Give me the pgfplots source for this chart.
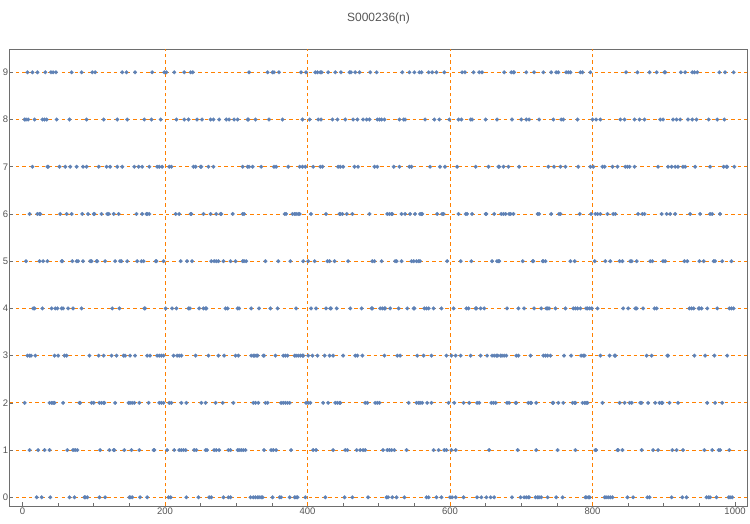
\documentclass[border=0pt]{standalone}
\usepackage{pgfplots}
\pgfplotsset{compat=1.18}
\usepackage{fontspec}
\setmainfont{Liberation Sans}
\definecolor{ptblue}{RGB}{94,129,181}
\definecolor{gridorange}{RGB}{255,128,0}
\definecolor{framegray}{RGB}{110,110,110}
\definecolor{textgray}{RGB}{85,85,85}
\pgfplotsset{pts/.style={only marks, mark=*, mark size=1.9pt, color=ptblue, mark options={fill=ptblue, draw=ptblue, line width=0.2pt}}}
\begin{document}
\begin{tikzpicture}
\begin{axis}[
  width=738pt, height=456.5pt, scale only axis,
  xmin=-18.2, xmax=1017.5, ymin=-0.184, ymax=9.483,
  axis line style={framegray, line width=0.8pt},
  tick align=inside, tick pos=left,
  xtick={0,200,400,600,800,1000}, minor x tick num=3,
  ytick={0,1,2,3,4,5,6,7,8,9},
  major tick length=4pt, minor tick length=2.5pt,
  tick style={framegray, line width=0.6pt},
  ymajorgrids=true,
  extra x ticks={200,400,600,800},
  extra x tick labels={},
  extra x tick style={xmajorgrids=true, major tick length=0pt},
  major grid style={gridorange, line width=0.8pt, dash pattern=on 3.5pt off 3pt},
  /pgf/number format/assume math mode=true,
  /pgf/number format/1000 sep={},
  ticklabel style={font=\fontsize{9.5}{11}\selectfont, text=textgray},
  yticklabel style={inner xsep=1.2pt},
  xticklabel style={inner ysep=2pt},
  title={S000236(n)},
  title style={font=\fontsize{12}{14}\selectfont, text=textgray, anchor=center, at={(0.5,1)}, yshift=25pt},
]
% value 9
\addplot[pts] coordinates {(7,9)(14,9)(21,9)(32,9)(40,9)(43,9)(47,9)(69,9)(83,9)(98,9)(102,9)(140,9)(146,9)(158,9)(182,9)(199,9)(202,9)(213,9)(227,9)(236,9)(239,9)(318,9)(344,9)(351,9)(353,9)(360,9)(391,9)(398,9)(411,9)(414,9)(418,9)(420,9)(429,9)(439,9)(447,9)(459,9)(461,9)(467,9)(473,9)(488,9)(497,9)(533,9)(543,9)(550,9)(557,9)(560,9)(570,9)(575,9)(581,9)(592,9)(617,9)(621,9)(633,9)(641,9)(645,9)(676,9)(686,9)(689,9)(690,9)(707,9)(718,9)(731,9)(742,9)(749,9)(752,9)(763,9)(766,9)(769,9)(783,9)(786,9)(797,9)(847,9)(863,9)(880,9)(890,9)(901,9)(902,9)(924,9)(930,9)(940,9)(943,9)(947,9)(978,9)(986,9)(998,9)};
% value 8
\addplot[pts] coordinates {(3,8)(5,8)(8,8)(17,8)(28,8)(31,8)(34,8)(48,8)(66,8)(90,8)(114,8)(133,8)(147,8)(171,8)(181,8)(194,8)(216,8)(227,8)(233,8)(245,8)(252,8)(264,8)(268,8)(276,8)(286,8)(290,8)(297,8)(302,8)(316,8)(317,8)(327,8)(346,8)(365,8)(393,8)(403,8)(415,8)(419,8)(435,8)(442,8)(453,8)(464,8)(470,8)(478,8)(483,8)(487,8)(498,8)(501,8)(504,8)(508,8)(529,8)(535,8)(537,8)(565,8)(578,8)(585,8)(599,8)(612,8)(616,8)(629,8)(631,8)(650,8)(666,8)(687,8)(700,8)(707,8)(711,8)(725,8)(745,8)(756,8)(759,8)(779,8)(800,8)(805,8)(811,8)(839,8)(845,8)(859,8)(866,8)(873,8)(895,8)(899,8)(913,8)(918,8)(923,8)(934,8)(940,8)(946,8)(963,8)(975,8)(985,8)};
% value 7
\addplot[pts] coordinates {(14,7)(35,7)(36,7)(52,7)(60,7)(67,7)(76,7)(85,7)(90,7)(107,7)(118,7)(123,7)(133,7)(140,7)(157,7)(163,7)(168,7)(178,7)(189,7)(192,7)(196,7)(206,7)(209,7)(240,7)(243,7)(250,7)(251,7)(261,7)(268,7)(309,7)(316,7)(318,7)(323,7)(335,7)(353,7)(356,7)(373,7)(389,7)(393,7)(397,7)(408,7)(418,7)(421,7)(443,7)(446,7)(450,7)(466,7)(471,7)(494,7)(498,7)(521,7)(529,7)(543,7)(546,7)(572,7)(586,7)(593,7)(610,7)(636,7)(654,7)(668,7)(669,7)(675,7)(682,7)(697,7)(738,7)(746,7)(755,7)(762,7)(780,7)(797,7)(801,7)(814,7)(817,7)(828,7)(835,7)(846,7)(849,7)(852,7)(859,7)(892,7)(906,7)(911,7)(916,7)(920,7)(927,7)(930,7)(944,7)(965,7)(984,7)(988,7)(989,7)(999,7)};
% value 6
\addplot[pts] coordinates {(10,6)(21,6)(24,6)(25,6)(53,6)(62,6)(69,6)(84,6)(92,6)(100,6)(101,6)(111,6)(119,6)(121,6)(128,6)(135,6)(160,6)(168,6)(174,6)(175,6)(178,6)(215,6)(220,6)(236,6)(237,6)(254,6)(264,6)(272,6)(278,6)(279,6)(295,6)(309,6)(311,6)(368,6)(370,6)(379,6)(382,6)(384,6)(387,6)(389,6)(405,6)(426,6)(445,6)(446,6)(449,6)(455,6)(463,6)(487,6)(512,6)(515,6)(518,6)(519,6)(532,6)(537,6)(544,6)(551,6)(558,6)(560,6)(561,6)(582,6)(589,6)(591,6)(612,6)(622,6)(624,6)(631,6)(650,6)(651,6)(662,6)(672,6)(675,6)(678,6)(683,6)(685,6)(689,6)(723,6)(725,6)(742,6)(753,6)(755,6)(782,6)(798,6)(804,6)(807,6)(811,6)(821,6)(829,6)(832,6)(864,6)(870,6)(873,6)(897,6)(904,6)(909,6)(916,6)(937,6)(951,6)(965,6)(968,6)(979,6)};
% value 5
\addplot[pts] coordinates {(5,5)(24,5)(29,5)(35,5)(55,5)(56,5)(70,5)(76,5)(78,5)(85,5)(95,5)(97,5)(104,5)(105,5)(116,5)(130,5)(137,5)(139,5)(147,5)(161,5)(167,5)(170,5)(187,5)(188,5)(198,5)(222,5)(231,5)(238,5)(265,5)(269,5)(272,5)(275,5)(282,5)(292,5)(299,5)(309,5)(311,5)(314,5)(341,5)(359,5)(376,5)(394,5)(401,5)(410,5)(428,5)(431,5)(438,5)(457,5)(491,5)(494,5)(504,5)(523,5)(525,5)(532,5)(546,5)(549,5)(553,5)(556,5)(558,5)(596,5)(615,5)(630,5)(659,5)(666,5)(668,5)(669,5)(702,5)(716,5)(717,5)(730,5)(731,5)(734,5)(769,5)(775,5)(803,5)(818,5)(825,5)(838,5)(842,5)(853,5)(855,5)(862,5)(881,5)(884,5)(899,5)(902,5)(929,5)(933,5)(950,5)(956,5)(970,5)(972,5)(982,5)(995,5)};
% value 4
\addplot[pts] coordinates {(15,4)(17,4)(28,4)(41,4)(46,4)(49,4)(55,4)(57,4)(64,4)(71,4)(83,4)(126,4)(136,4)(171,4)(172,4)(201,4)(210,4)(216,4)(233,4)(235,4)(248,4)(254,4)(257,4)(258,4)(285,4)(288,4)(302,4)(304,4)(321,4)(332,4)(348,4)(358,4)(384,4)(405,4)(412,4)(426,4)(432,4)(433,4)(441,4)(460,4)(476,4)(490,4)(491,4)(502,4)(505,4)(508,4)(509,4)(516,4)(528,4)(540,4)(549,4)(550,4)(564,4)(567,4)(570,4)(577,4)(588,4)(605,4)(623,4)(626,4)(636,4)(637,4)(643,4)(648,4)(680,4)(696,4)(704,4)(718,4)(728,4)(735,4)(737,4)(739,4)(748,4)(762,4)(773,4)(776,4)(779,4)(783,4)(791,4)(793,4)(796,4)(799,4)(807,4)(843,4)(850,4)(860,4)(862,4)(871,4)(887,4)(890,4)(936,4)(939,4)(942,4)(949,4)(950,4)(953,4)(961,4)(975,4)(992,4)(995,4)(998,4)};
% value 3
\addplot[pts] coordinates {(7,3)(10,3)(12,3)(18,3)(45,3)(50,3)(59,3)(62,3)(94,3)(107,3)(114,3)(125,3)(132,3)(142,3)(144,3)(151,3)(158,3)(175,3)(179,3)(189,3)(192,3)(195,3)(198,3)(212,3)(217,3)(220,3)(223,3)(243,3)(261,3)(275,3)(283,3)(299,3)(303,3)(321,3)(324,3)(326,3)(328,3)(330,3)(338,3)(339,3)(355,3)(366,3)(369,3)(372,3)(382,3)(384,3)(387,3)(390,3)(393,3)(394,3)(401,3)(407,3)(414,3)(424,3)(431,3)(436,3)(450,3)(467,3)(470,3)(477,3)(508,3)(526,3)(530,3)(554,3)(563,3)(574,3)(595,3)(602,3)(608,3)(615,3)(629,3)(643,3)(652,3)(659,3)(662,3)(665,3)(667,3)(671,3)(673,3)(676,3)(679,3)(693,3)(696,3)(713,3)(731,3)(734,3)(737,3)(741,3)(760,3)(770,3)(784,3)(787,3)(789,3)(811,3)(824,3)(831,3)(832,3)(876,3)(883,3)(905,3)(906,3)(943,3)(958,3)(971,3)(989,3)};
% value 2
\addplot[pts] coordinates {(3,2)(38,2)(41,2)(43,2)(45,2)(57,2)(80,2)(81,2)(97,2)(100,2)(108,2)(111,2)(114,2)(115,2)(130,2)(149,2)(151,2)(154,2)(157,2)(164,2)(177,2)(192,2)(195,2)(198,2)(206,2)(209,2)(223,2)(230,2)(251,2)(257,2)(271,2)(281,2)(296,2)(324,2)(327,2)(331,2)(341,2)(344,2)(363,2)(366,2)(369,2)(372,2)(375,2)(398,2)(401,2)(404,2)(422,2)(429,2)(439,2)(442,2)(445,2)(446,2)(481,2)(484,2)(495,2)(498,2)(501,2)(542,2)(553,2)(556,2)(558,2)(561,2)(568,2)(574,2)(598,2)(606,2)(619,2)(627,2)(638,2)(641,2)(658,2)(661,2)(664,2)(680,2)(683,2)(692,2)(693,2)(710,2)(713,2)(714,2)(721,2)(744,2)(745,2)(752,2)(759,2)(772,2)(775,2)(776,2)(786,2)(789,2)(791,2)(793,2)(814,2)(838,2)(845,2)(852,2)(855,2)(867,2)(869,2)(878,2)(888,2)(894,2)(897,2)(898,2)(908,2)(920,2)(961,2)(972,2)(982,2)};
% value 1
\addplot[pts] coordinates {(10,1)(22,1)(31,1)(38,1)(63,1)(71,1)(74,1)(77,1)(109,1)(122,1)(128,1)(129,1)(143,1)(153,1)(164,1)(184,1)(185,1)(203,1)(213,1)(220,1)(223,1)(226,1)(229,1)(241,1)(244,1)(257,1)(259,1)(269,1)(272,1)(276,1)(289,1)(292,1)(302,1)(304,1)(307,1)(310,1)(313,1)(339,1)(349,1)(352,1)(356,1)(377,1)(408,1)(412,1)(436,1)(453,1)(456,1)(469,1)(474,1)(478,1)(481,1)(506,1)(512,1)(515,1)(518,1)(522,1)(539,1)(577,1)(584,1)(592,1)(595,1)(602,1)(608,1)(655,1)(695,1)(721,1)(751,1)(776,1)(804,1)(805,1)(835,1)(836,1)(842,1)(869,1)(885,1)(892,1)(912,1)(918,1)(927,1)(957,1)(968,1)(977,1)(979,1)(992,1)};
% value 0
\addplot[pts] coordinates {(20,0)(27,0)(39,0)(66,0)(73,0)(87,0)(88,0)(91,0)(108,0)(116,0)(150,0)(151,0)(154,0)(165,0)(175,0)(205,0)(208,0)(230,0)(247,0)(262,0)(265,0)(282,0)(289,0)(292,0)(320,0)(324,0)(327,0)(330,0)(332,0)(335,0)(337,0)(351,0)(361,0)(363,0)(375,0)(382,0)(384,0)(386,0)(397,0)(425,0)(452,0)(463,0)(485,0)(511,0)(513,0)(519,0)(525,0)(536,0)(567,0)(570,0)(581,0)(588,0)(600,0)(603,0)(608,0)(619,0)(638,0)(644,0)(651,0)(657,0)(662,0)(687,0)(699,0)(704,0)(707,0)(710,0)(711,0)(720,0)(723,0)(725,0)(728,0)(737,0)(749,0)(758,0)(790,0)(791,0)(794,0)(796,0)(817,0)(819,0)(822,0)(825,0)(828,0)(849,0)(857,0)(877,0)(880,0)(911,0)(926,0)(932,0)(960,0)(963,0)(965,0)(974,0)(991,0)(993,0)(996,0)};
\end{axis}
\path (current axis.south west) ++(-9.5pt,-18pt) rectangle ++(750pt,524pt);
\end{tikzpicture}
\end{document}
